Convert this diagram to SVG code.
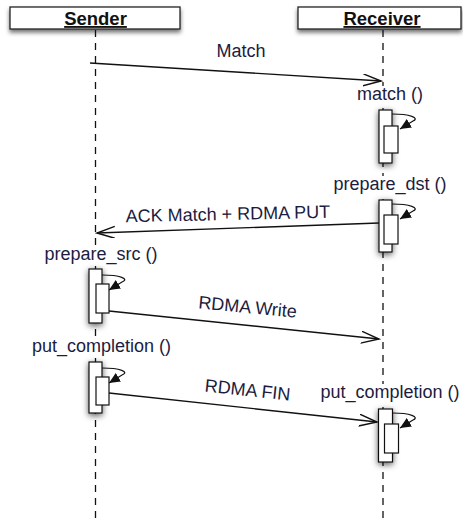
<svg xmlns="http://www.w3.org/2000/svg" width="463" height="523" viewBox="0 0 463 523">
<style>
.hdr{fill:#fff;stroke:#222;stroke-width:1.3}
.htxt{font-family:"Liberation Sans",Arial,sans-serif;font-size:18.5px;font-weight:bold;fill:#111;text-anchor:middle;text-decoration:underline}
.lbl{font-family:"Liberation Sans",Arial,sans-serif;font-size:18px;fill:#1c1c40;text-anchor:middle}
.bg{fill:#fff}
.life{stroke:#111;stroke-width:1.3;stroke-dasharray:7,6;fill:none}
.act{fill:#fff;stroke:#111;stroke-width:1.2}
.msg{stroke:#111;stroke-width:1.4;fill:none}
.self{stroke:#111;stroke-width:1.2;fill:none}
</style>
<defs>
<filter id="sh" x="-30%" y="-30%" width="160%" height="180%">
<feDropShadow dx="0" dy="3" stdDeviation="2.2" flood-color="#000" flood-opacity="0.55"/>
</filter>
<filter id="ash" x="-100%" y="-30%" width="300%" height="160%">
<feDropShadow dx="0" dy="2" stdDeviation="3" flood-color="#000" flood-opacity="0.65"/>
</filter>
<marker id="open" markerUnits="userSpaceOnUse" markerWidth="20" markerHeight="14" refX="18" refY="6" orient="auto">
<path d="M0,0 L18,6 L0,12" fill="none" stroke="#111" stroke-width="1.4"/>
</marker>
<marker id="fill" markerUnits="userSpaceOnUse" markerWidth="14" markerHeight="12" refX="11" refY="5" orient="auto">
<path d="M0,0 L11,5 L0,10 Z" fill="#111"/>
</marker>
</defs>

<g id="sender">
<rect class="hdr" x="10" y="7" width="170" height="22" filter="url(#sh)"/>
<text class="htxt" x="95.5" y="25">Sender</text>
</g>
<g id="receiver">
<rect class="hdr" x="298" y="7" width="163" height="22" filter="url(#sh)"/>
<text class="htxt" x="382" y="25">Receiver</text>
</g>

<g id="lifelines">
<line class="life" x1="95.5" y1="30" x2="95.5" y2="523"/>
<line class="life" x1="383" y1="30" x2="383" y2="523"/>
</g>

<g id="act-match">
<rect class="bg" x="356" y="86" width="68" height="19"/>
<text class="lbl" x="390" y="100">match ()</text>
<rect class="act" x="379" y="110" width="13" height="53" filter="url(#ash)"/>
<rect class="act" x="384" y="126" width="14" height="27"/>
<path class="self" d="M392,114 C410,114 420,118 413,121 L400,129" marker-end="url(#fill)"/>
</g>

<g id="act-prepare-dst">
<rect class="bg" x="331" y="176" width="118" height="20"/>
<text class="lbl" x="390" y="190">prepare_dst ()</text>
<rect class="act" x="379" y="200" width="13" height="52" filter="url(#ash)"/>
<rect class="act" x="384" y="215" width="14" height="29"/>
<path class="self" d="M392,204 C410,204 420,208 413,211 L400,219" marker-end="url(#fill)"/>
</g>

<g id="act-prepare-src">
<rect class="bg" x="42" y="246" width="118" height="20"/>
<text class="lbl" x="101" y="260">prepare_src ()</text>
<rect class="act" x="89" y="269" width="13" height="54" filter="url(#ash)"/>
<rect class="act" x="96" y="284" width="13" height="29"/>
<path class="self" d="M102,275 C120,275 130,279 122,282 L109,290" marker-end="url(#fill)"/>
</g>

<g id="act-put-completion-sender">
<rect class="bg" x="30" y="338" width="143" height="20"/>
<text class="lbl" x="101.5" y="352">put_completion ()</text>
<rect class="act" x="89" y="362" width="13" height="51" filter="url(#ash)"/>
<rect class="act" x="96" y="377" width="13" height="28"/>
<path class="self" d="M102,368 C120,368 130,372 122,375 L109,383" marker-end="url(#fill)"/>
</g>

<g id="act-put-completion-receiver">
<rect class="bg" x="318" y="384" width="145" height="20"/>
<text class="lbl" x="390" y="398">put_completion ()</text>
<rect class="act" x="378.5" y="409" width="14" height="53" filter="url(#ash)"/>
<rect class="act" x="384.5" y="424" width="14" height="29"/>
<path class="self" d="M392.5,413 C410,413 420,417 413,420 L400,428" marker-end="url(#fill)"/>
</g>

<g id="connectors">
<line class="msg" x1="90" y1="63" x2="381" y2="81" marker-end="url(#open)"/>
<line class="msg" x1="379" y1="223" x2="97" y2="233" marker-end="url(#open)"/>
<line class="msg" x1="109" y1="311" x2="379" y2="339" marker-end="url(#open)"/>
<line class="msg" x1="109" y1="393" x2="377" y2="422" marker-end="url(#open)"/>
<text class="lbl" x="241" y="57">Match</text>
<text class="lbl" x="228" y="220" transform="rotate(-1.2 228 220)">ACK Match + RDMA PUT</text>
<text class="lbl" x="247" y="313" transform="rotate(5.5 247 313)">RDMA Write</text>
<text class="lbl" x="247" y="396" transform="rotate(6 247 396)">RDMA FIN</text>
</g>
</svg>
